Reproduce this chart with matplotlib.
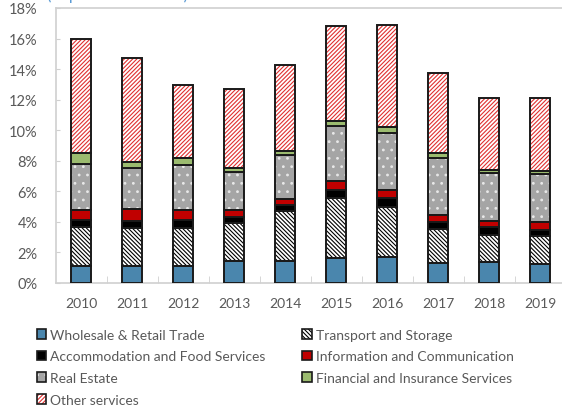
import numpy as np
import matplotlib.pyplot as plt
from matplotlib.patches import Patch
from matplotlib.ticker import FuncFormatter, MultipleLocator

plt.rcParams['font.family'] = ['Lato', 'DejaVu Sans']

years = ["2010", "2011", "2012", "2013", "2014", "2015", "2016", "2017", "2018", "2019"]
wholesale = [1.13, 1.11, 1.11, 1.42, 1.42, 1.64, 1.68, 1.33, 1.37, 1.22]
transport = [2.56, 2.51, 2.51, 2.53, 3.27, 3.92, 3.32, 2.20, 1.77, 1.83]
accommodation = [0.43, 0.44, 0.52, 0.39, 0.41, 0.55, 0.56, 0.44, 0.50, 0.44]
info_comm = [0.64, 0.76, 0.64, 0.44, 0.40, 0.54, 0.53, 0.46, 0.44, 0.48]
real_estate = [3.01, 2.71, 2.94, 2.51, 2.90, 3.60, 3.73, 3.77, 3.10, 3.19]
financial = [0.74, 0.41, 0.46, 0.26, 0.24, 0.33, 0.41, 0.29, 0.24, 0.19]
other = [7.44, 6.78, 4.80, 5.17, 5.63, 6.26, 6.68, 5.25, 4.71, 4.78]

labels = ["Wholesale & Retail Trade", "Transport and Storage",
          "Accommodation and Food Services", "Information and Communication",
          "Real Estate", "Financial and Insurance Services", "Other services"]

# face, hatch, hatch colour
styles = [
    ("#4A86AD", None, None),
    ("white", "\\" * 8, "black"),
    ("black", None, None),
    ("#C00000", None, None),
    ("#A5A5A5", "..", "#E8E8E8"),
    ("#9BBB6F", None, None),
    ("white", "/" * 8, "#E03030"),
]
series = [wholesale, transport, accommodation, info_comm, real_estate, financial, other]

fig = plt.figure(figsize=(5.62, 4.10), dpi=100)
ax = fig.add_axes([55.5 / 562, 1 - 284 / 410, 510 / 562, 275 / 410])

x = np.arange(len(years))
w = 0.4
bottom = np.zeros(len(years))
plt.rcParams['hatch.linewidth'] = 0.8
for vals, (face, hatch, hc) in zip(series, styles):
    vals = np.array(vals)
    if hatch:
        ax.bar(x, vals, w, bottom=bottom, color=face, hatch=hatch,
               edgecolor=hc, linewidth=0, zorder=2)
        ax.bar(x, vals, w, bottom=bottom, fill=False, edgecolor="#1a1a1a",
               linewidth=1.4, zorder=3)
    else:
        ax.bar(x, vals, w, bottom=bottom, color=face, edgecolor="#1a1a1a",
               linewidth=1.4, zorder=3)
    bottom += vals

ax.set_xlim(-0.5, 9.5)
ax.set_ylim(0, 18)
ax.yaxis.set_major_locator(MultipleLocator(2))
ax.yaxis.set_major_formatter(FuncFormatter(lambda v, p: f"{v:.0f}%"))
ax.set_xticks(x)
ax.set_xticklabels(years)
ax.set_xticks(np.arange(0.5, 9.5, 1), minor=True)
ax.tick_params(axis="x", which="major", length=0, pad=10, labelsize=10, labelcolor="#595959")
ax.tick_params(axis="x", which="minor", direction="in", length=5, color="#D0D0D0")
ax.tick_params(axis="y", direction="in", length=3, color="#D0D0D0", pad=13,
               labelsize=10.5, labelcolor="#595959")
for s in ["left", "bottom", "top"]:
    ax.spines[s].set_color("#D0D0D0")
    ax.spines[s].set_linewidth(1.2)
ax.spines["right"].set_visible(False)

fig.text(47 / 562, 0.999, "(in percent of GDP)", color="#5B9BD5", fontsize=12,
         ha="left", va="baseline")

handles = []
for face, hatch, hc in styles:
    if hatch:
        handles.append((Patch(facecolor=face, hatch=hatch, edgecolor=hc, linewidth=0),
                        Patch(fill=False, edgecolor="#1a1a1a", linewidth=1.2)))
    else:
        handles.append(Patch(facecolor=face, edgecolor="#1a1a1a", linewidth=1.2))

# legend fills column by column, so reorder to read row by row
order = [0, 2, 4, 6, 1, 3, 5]
fig.legend([handles[i] for i in order], [labels[i] for i in order], ncol=2,
           loc="upper left", bbox_to_anchor=(24 / 562, 1 - 317 / 410),
           frameon=False, fontsize=10, labelcolor="#595959", handlelength=0.7,
           handleheight=0.7, handletextpad=0.3, columnspacing=2.6, labelspacing=0.7)

fig.savefig("out.png", dpi=100)
